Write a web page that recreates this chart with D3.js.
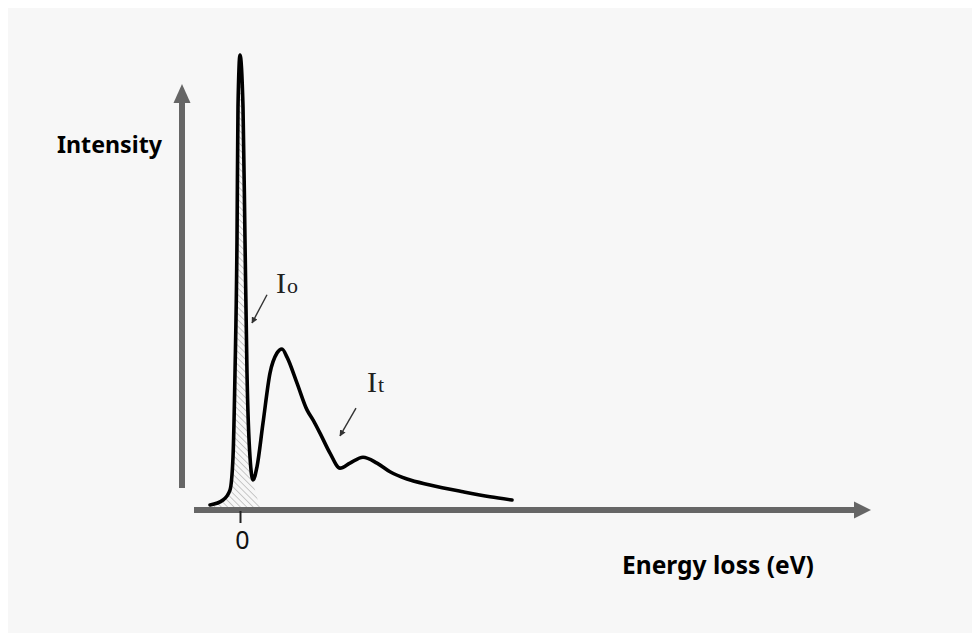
<!DOCTYPE html>
<html>
<head>
<meta charset="utf-8">
<script src="https://cdn.jsdelivr.net/npm/d3@7"></script>
<style>
  html, body { margin: 0; padding: 0; background: #fff; }
  svg { display: block; }
</style>
</head>
<body>
<svg id="chart" width="972" height="633"></svg>
<script>
// ---- Data (energy loss in eV-like units, intensity in % of zero-loss peak) ----
const energy = [-3.0, -1.7, -1.0, -0.7, -0.5, -0.3, -0.2, 0, 0.3, 0.5, 0.7, 1.0, 1.3, 1.7, 2.3, 3.0, 3.7, 4.2, 4.7, 5.7, 6.7, 7.3, 8.0, 9.0, 10.0, 11.0, 12.3, 13.7, 15.0, 16.7, 19.0, 22.3, 25.0, 27.2];
const intensity = [1.1, 2.2, 4.4, 11.6, 30.1, 59.3, 88.6, 100, 88.6, 59.3, 30.1, 11.6, 6.6, 9.5, 19.1, 30.1, 34.5, 35.4, 33.6, 27.9, 22.0, 19.8, 16.9, 12.5, 9.2, 10.3, 11.6, 10.3, 8.4, 6.8, 5.5, 4.0, 2.9, 2.2];

// zero-loss peak (hatched area I0)
const zlpEnergy = [-3.0, -1.7, -1.0, -0.7, -0.5, -0.3, -0.2, 0, 0.3, 0.5, 0.7, 1.0, 1.4, 1.9, 2.2];
const zlpIntensity = [1.1, 2.2, 4.4, 11.6, 30.1, 59.3, 88.6, 100, 88.6, 59.3, 30.1, 11.6, 5.5, 1.5, 0];

const xTickValues = [0];
const xTickLabels = ["0"];
const yAxisLabel = "Intensity";
const xAxisLabel = "Energy loss (eV)";

// annotations
const annotationMain = ["I", "I"];
const annotationSub = ["o", "t"];
const annotationLabelE = [3.6, 12.7];
const annotationLabelI = [47.7, 25.9];
const annotationFromE = [2.7, 11.6];
const annotationFromI = [47.3, 22.4];
const annotationToE = [1.2, 10.0];
const annotationToI = [41.1, 16.3];

// ---- Layout ----
const W = 972, H = 633;
const svg = d3.select("#chart");

svg.append("rect").attr("width", W).attr("height", H).attr("fill", "#ffffff");
svg.append("rect").attr("x", 8).attr("y", 8).attr("width", W - 8).attr("height", H - 8).attr("fill", "#f7f7f7");

const x = d3.scaleLinear().domain([-4.6, 63.1]).range([194, 871]);
const y = d3.scaleLinear().domain([0, 100]).range([510, 55]);

const defs = svg.append("defs");
const pat = defs.append("pattern")
  .attr("id", "hatch")
  .attr("patternUnits", "userSpaceOnUse")
  .attr("width", 4.5).attr("height", 4.5)
  .attr("patternTransform", "rotate(-45)");
pat.append("line").attr("x1", 0).attr("y1", 0).attr("x2", 0).attr("y2", 4.5)
  .attr("stroke", "#a8a8a8").attr("stroke-width", 1.2);

defs.append("marker")
  .attr("id", "ah")
  .attr("viewBox", "0 0 10 10")
  .attr("refX", 9).attr("refY", 5)
  .attr("markerWidth", 4.5).attr("markerHeight", 4.5)
  .attr("markerUnits", "strokeWidth")
  .attr("orient", "auto")
  .append("path").attr("d", "M0,0 L10,5 L0,10 z").attr("fill", "#333");

// hatched zero-loss area
const zlpData = zlpEnergy.map((e, i) => [e, zlpIntensity[i]]);
svg.append("path")
  .datum(zlpData)
  .attr("d", d3.area().x(d => x(d[0])).y0(y(0)).y1(d => y(d[1])).curve(d3.curveMonotoneX))
  .attr("fill", "url(#hatch)");

// axes
const axisColor = "#666666";
const xStart = 194, xHeadBase = 856, xTip = 871, xAxisY = y(0);
svg.append("line").attr("x1", xStart).attr("x2", xHeadBase).attr("y1", xAxisY).attr("y2", xAxisY)
  .attr("stroke", axisColor).attr("stroke-width", 6);
svg.append("path")
  .attr("d", `M${xHeadBase - 2},${xAxisY - 8.5} L${xTip},${xAxisY} L${xHeadBase - 2},${xAxisY + 8.5} Z`)
  .attr("fill", axisColor);

const yAxisX = 182, yBottom = 488, yHeadBase = 101, yTip = 84;
svg.append("line").attr("x1", yAxisX).attr("x2", yAxisX).attr("y1", yBottom).attr("y2", yHeadBase)
  .attr("stroke", axisColor).attr("stroke-width", 6);
svg.append("path")
  .attr("d", `M${yAxisX - 8.5},${yHeadBase + 2} L${yAxisX},${yTip} L${yAxisX + 8.5},${yHeadBase + 2} Z`)
  .attr("fill", axisColor);

// x ticks through d3 axis
const xAxis = d3.axisBottom(x).tickValues(xTickValues).tickFormat((d, i) => xTickLabels[i]).tickSize(12).tickPadding(8);
const gx = svg.append("g").attr("transform", `translate(0,${xAxisY + 1})`).call(xAxis);
gx.select(".domain").remove();
gx.selectAll(".tick line").attr("stroke", "#222").attr("stroke-width", 2);
gx.selectAll(".tick text")
  .attr("fill", "#111")
  .attr("font-family", "'Noto Sans', 'Open Sans', sans-serif")
  .attr("font-size", 25)
  .attr("dx", 2);

// spectrum curve
const specData = energy.map((e, i) => [e, intensity[i]]);
svg.append("path")
  .datum(specData)
  .attr("d", d3.line().x(d => x(d[0])).y(d => y(d[1])).curve(d3.curveMonotoneX))
  .attr("fill", "none")
  .attr("stroke", "#000")
  .attr("stroke-width", 3.6)
  .attr("stroke-linejoin", "round")
  .attr("stroke-linecap", "round");

// annotations
annotationMain.forEach((m, i) => {
  svg.append("line")
    .attr("x1", x(annotationFromE[i])).attr("y1", y(annotationFromI[i]))
    .attr("x2", x(annotationToE[i])).attr("y2", y(annotationToI[i]))
    .attr("stroke", "#333").attr("stroke-width", 1.4)
    .attr("marker-end", "url(#ah)");
  const t = svg.append("text")
    .attr("x", x(annotationLabelE[i])).attr("y", y(annotationLabelI[i]))
    .attr("font-family", "'Liberation Serif', 'DejaVu Serif', serif")
    .attr("fill", "#222");
  t.append("tspan").attr("font-size", 30).text(m);
  t.append("tspan").attr("font-size", 22).attr("dx", 1).text(annotationSub[i]);
});

// axis titles
function fitText(sel, targetWidth) {
  const w = sel.node().getComputedTextLength();
  const fs = parseFloat(sel.attr("font-size"));
  sel.attr("font-size", fs * targetWidth / w);
}
const yl = svg.append("text")
  .attr("x", 57).attr("y", 153)
  .attr("font-family", "'Noto Sans', 'Open Sans', sans-serif")
  .attr("font-weight", "bold").attr("font-size", 24).attr("fill", "#000")
  .text(yAxisLabel);
fitText(yl, 105);
const xl = svg.append("text")
  .attr("x", 622).attr("y", 574)
  .attr("font-family", "'Noto Sans', 'Open Sans', sans-serif")
  .attr("font-weight", "bold").attr("font-size", 24).attr("fill", "#000")
  .text(xAxisLabel);
fitText(xl, 192);
</script>
</body>
</html>
